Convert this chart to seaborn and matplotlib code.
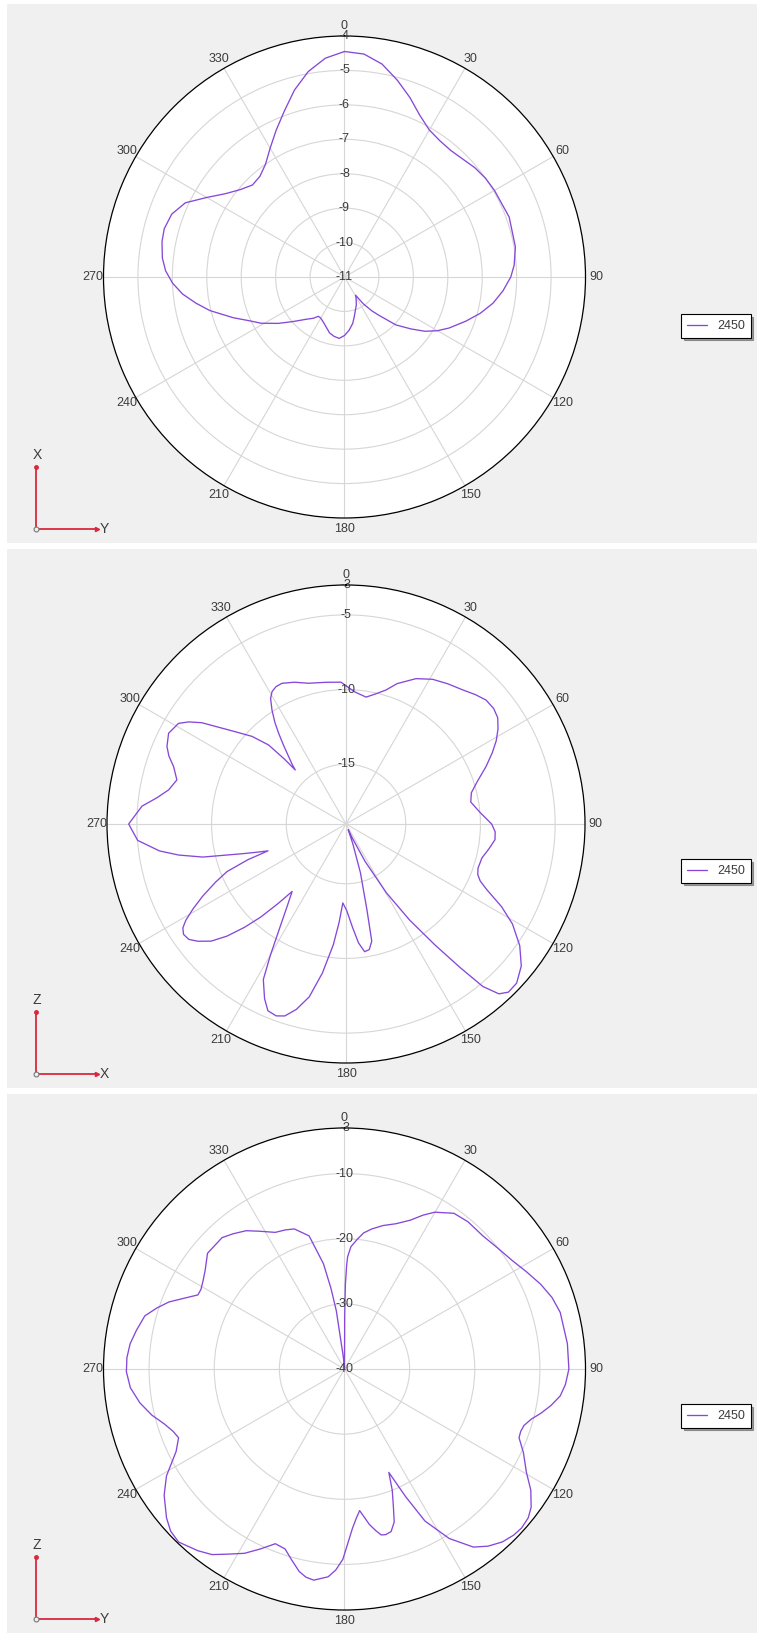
import numpy as np
import matplotlib
matplotlib.use("Agg")
import matplotlib.pyplot as plt
from matplotlib.patches import Rectangle
import seaborn as sns

# ---- radiation pattern data, 2450 MHz (angle in degrees, gain in dB) ----
xy_theta = [0, 5, 10, 15, 20, 25, 30, 35, 40, 45, 50, 55, 60, 70, 80, 86, 90, 95,
            100, 105, 110, 116, 120, 124, 128, 133, 138, 141, 145, 148.6, 152, 157,
            162, 166, 170, 175, 180, 185, 190, 195, 200, 205, 210, 213.6, 217, 222,
            229, 235, 241, 245, 250, 256, 260, 264, 268, 272, 276, 281, 285, 290,
            295, 300, 305, 310, 315, 320, 325, 330, 335, 340, 345, 350, 355, 360]
xy_gain = [-4.45, -4.50, -4.72, -5.08, -5.45, -5.82, -6.07, -6.17, -6.20, -6.15,
           -6.06, -6.00, -5.97, -5.91, -5.96, -6.06, -6.17, -6.38, -6.62, -6.92,
           -7.25, -7.62, -7.88, -8.18, -8.55, -8.96, -9.50, -9.73, -10.05, -10.38,
           -10.28, -10.12, -9.98, -9.82, -9.63, -9.45, -9.30, -9.21, -9.25, -9.32,
           -9.45, -9.55, -9.62, -9.63, -9.50, -9.35, -9.03, -8.65, -8.23, -7.98,
           -7.55, -6.97, -6.62, -6.27, -6.00, -5.80, -5.68, -5.60, -5.58, -5.66,
           -5.90, -6.38, -6.78, -7.05, -7.22, -7.18, -7.00, -6.68, -6.30, -5.88,
           -5.38, -4.94, -4.62, -4.45]

zx_theta = [0, 4, 9, 13, 16.6, 20, 25.7, 30.9, 36, 41, 45, 48.5, 52, 55, 58, 61, 64,
            67.7, 72, 76, 80, 85, 90, 93, 96, 100, 104, 108.5, 111, 113, 115, 118,
            121, 125, 129, 133, 136, 138, 139.9, 141.5, 143.7, 146.5, 149.6, 153,
            156, 158.5, 161, 163.5, 166.3, 167.6, 169.5, 171.7, 174, 176.4, 179.5,
            182.3, 184, 186, 189, 192, 195, 197.7, 200, 202.7, 205, 208, 210, 212.6,
            215.5, 218.6, 220.5, 222.5, 224.5, 226.7, 229, 231.6, 233.7, 235.8,
            237.5, 239, 241, 243.3, 246, 248.2, 250, 251, 252.5, 254.1, 257, 259.5,
            261.8, 265.5, 270, 275, 278, 280.9, 284.6, 288.4, 291, 293.4, 297.1,
            301, 303, 305.1, 309.8, 313, 315.6, 316.5, 316.8, 318, 319.6, 321.5,
            323.4, 325, 327, 329, 330.8, 333, 335.5, 340, 345.1, 352, 358, 360]
zx_gain = [-9.75, -10.15, -10.40, -10.05, -9.64, -9.00, -8.20, -7.71, -7.40, -7.10,
           -6.75, -6.48, -6.45, -6.60, -7.00, -7.50, -8.10, -8.87, -9.75, -10.35,
           -10.52, -10.00, -9.25, -9.00, -8.97, -9.30, -9.62, -9.68, -9.55, -9.24,
           -8.60, -7.20, -6.00, -4.80, -3.90, -3.38, -3.35, -3.70, -4.78, -6.70,
           -8.98, -11.30, -13.67, -16.20, -18.00, -18.60, -17.60, -15.60, -13.07,
           -10.97, -10.45, -10.36, -11.00, -12.07, -13.20, -13.71, -12.40, -10.87,
           -8.90, -7.17, -6.15, -5.51, -5.33, -5.45, -6.10, -7.21, -8.90, -10.79,
           -12.20, -13.22, -12.00, -10.55, -9.30, -8.06, -7.05, -6.36, -5.95, -5.85,
           -6.05, -6.49, -7.30, -8.27, -9.45, -10.42, -12.00, -13.48, -12.70,
           -11.72, -9.16, -7.60, -6.38, -5.01, -4.45, -5.29, -6.25, -6.91, -7.30,
           -6.84, -6.30, -5.94, -5.66, -5.92, -6.45, -7.21, -9.35, -10.40, -11.60,
           -13.00, -14.04, -13.60, -13.08, -12.30, -11.44, -10.70, -9.90, -9.20,
           -8.85, -8.68, -8.65, -8.90, -9.25, -9.42, -9.50, -9.75]

zy_theta = [0, 0.2, 0.6, 1.2, 1.6, 3, 5.6, 8, 11, 15, 19.5, 23.9, 27, 29.9, 35.1, 40,
            46.1, 52, 57, 62, 66.7, 71, 75.3, 83.5, 90, 94, 97.1, 100, 102.7, 105,
            107.5, 109.5, 111.5, 115, 119.6, 123, 126.5, 129, 131.9, 134.5, 137.6,
            141, 144.1, 148.3, 152.1, 154.4, 156.8, 158.5, 160.5, 162, 164, 166,
            167.5, 169, 170.9, 173.9, 175.5, 177.1, 180.5, 182.5, 184.5, 188.3,
            190.5, 192.6, 195.5, 198.3, 201.6, 205, 208.5, 212.4, 215.5, 218.9,
            223.8, 227, 230.1, 235, 239, 243.9, 247.5, 250, 253.1, 256.5, 260.6,
            265, 269.3, 273, 276.7, 280.5, 284.9, 288, 290.9, 294, 296.8, 299, 302,
            305.2, 310.2, 317, 320.5, 324.6, 328.5, 333.1, 337, 340.3, 345.1, 348.7,
            350.5, 352, 352.5, 354, 357, 360]
zy_gain = [-39.9, -32.0, -27.0, -24.0, -22.76, -21.2, -20.0, -18.9, -18.1, -17.2,
           -16.34, -15.0, -13.5, -12.23, -10.78, -10.50, -10.52, -10.0, -9.35, -8.30,
           -7.18, -6.30, -5.76, -5.56, -5.55, -6.00, -6.62, -7.80, -9.09, -10.30,
           -11.12, -11.30, -11.20, -9.70, -7.88, -5.90, -4.35, -3.70, -3.46, -3.60,
           -4.05, -5.00, -6.25, -9.42, -13.58, -18.25, -22.73, -20.0, -17.5, -15.3,
           -14.04, -13.8, -13.9, -14.7, -15.82, -18.14, -17.0, -15.55, -10.78, -9.10,
           -8.00, -7.24, -7.50, -8.14, -9.60, -10.91, -11.15, -9.53, -7.80, -6.33,
           -5.00, -4.15, -3.20, -3.50, -4.38, -6.20, -8.11, -11.21, -12.43, -12.00,
           -11.06, -9.60, -8.16, -7.00, -6.51, -6.55, -6.86, -7.50, -8.28, -9.70,
           -11.15, -13.20, -14.78, -14.80, -14.40, -13.81, -12.47, -12.43, -13.10,
           -13.95, -15.20, -16.48, -16.80, -17.16, -18.85, -23.52, -27.5, -31.0,
           -35.0, -37.8, -39.4, -39.9]

angle_ticks = [0, 30, 60, 90, 120, 150, 180, 210, 240, 270, 300, 330]
xy_rings = [-10, -9, -8, -7, -6, -5]
xy_rlabels = [-11, -10, -9, -8, -7, -6, -5, -4]
zx_rings = [-15, -10, -5]
zx_rlabels = [-15, -10, -5, -3]
zy_rings = [-30, -20, -10]
zy_rlabels = [-40, -30, -20, -10, -3]
freq_label = "2450"

W, H = 757, 1635
PANEL_H = 545
LINE = "#8648d8"
GRID = "#d6d6d6"
TXT = "#3c3c3c"
RED = "#d8283c"

panels = [
    dict(theta=xy_theta, gain=xy_gain, rlim=(-11, -4), rings=xy_rings,
         rlabels=xy_rlabels, up="X", right="Y", cx=344.5, cy=277, R=241),
    dict(theta=zx_theta, gain=zx_gain, rlim=(-19, -3), rings=zx_rings,
         rlabels=zx_rlabels, up="Z", right="X", cx=346, cy=824, R=239),
    dict(theta=zy_theta, gain=zy_gain, rlim=(-40, -3), rings=zy_rings,
         rlabels=zy_rlabels, up="Z", right="Y", cx=344.5, cy=1369, R=241),
]

sns.set_style("white")
plt.rcParams["font.family"] = ["Liberation Sans", "DejaVu Sans"]

fig = plt.figure(figsize=(W / 100, H / 100), dpi=100, facecolor="white")

# background + axis indicators, drawn in pixel coordinates
bg = fig.add_axes([0, 0, 1, 1], zorder=0)
bg.set_xlim(0, W)
bg.set_ylim(H, 0)
bg.axis("off")

for i, p in enumerate(panels):
    top = i * PANEL_H
    bg.add_patch(Rectangle((7, top + 4), W - 7, PANEL_H - 6, facecolor="#f0f0f0",
                           edgecolor="none"))
    ox, oy = 36, top + 529
    bg.plot([ox, ox], [oy, top + 467], color=RED, lw=1.3)
    bg.plot([ox, 97], [oy, oy], color=RED, lw=1.3)
    bg.plot([ox], [top + 467], marker="o", ms=2.5, color=RED)
    bg.plot([97], [oy], marker=">", ms=3, color=RED)
    bg.plot([ox], [oy], marker="o", ms=3.5, mfc="#f0f0f0", mec="#777777", mew=0.8)
    bg.text(ox + 1, top + 455, p["up"], ha="center", va="center", fontsize=10, color=TXT)
    bg.text(104, oy, p["right"], ha="center", va="center", fontsize=10, color=TXT)

    R = p["R"]
    ax = fig.add_axes([(p["cx"] - R) / W, 1 - (p["cy"] + R) / H, 2 * R / W, 2 * R / H],
                      projection="polar", zorder=2)
    ax.set_facecolor("white")
    ax.set_theta_zero_location("N")
    ax.set_theta_direction(-1)

    sns.lineplot(x=np.deg2rad(p["theta"]), y=p["gain"], ax=ax, sort=False,
                 estimator=None, color=LINE, linewidth=0.95, label=freq_label)

    ax.set_ylim(*p["rlim"])
    ax.set_yticks(p["rings"])
    ax.set_yticklabels([])
    ax.set_xticks(np.deg2rad(angle_ticks))
    ax.set_xticklabels([])
    ax.grid(True, color=GRID, lw=0.8)
    ax.spines["polar"].set_color("black")
    ax.spines["polar"].set_linewidth(0.9)
    ax.set_xlabel("")
    ax.set_ylabel("")

    # angle labels just outside the rim
    off = 0.5 + 10.5 / (2 * R)
    for a in angle_ticks:
        t = np.deg2rad(a)
        ax.text(0.5 + off * np.sin(t), 0.5 + off * np.cos(t), str(a),
                transform=ax.transAxes, ha="center", va="center", fontsize=9,
                color=TXT)

    # radial value labels along the 0 degree spoke
    for v in p["rlabels"]:
        ax.text(0, v, str(v), ha="center", va="center", fontsize=9, color=TXT,
                clip_on=False, zorder=5)

    leg = ax.legend(loc="center", bbox_to_anchor=(716 / W, 1 - (top + 326) / H),
                    bbox_transform=fig.transFigure, fontsize=9, frameon=True,
                    fancybox=False, shadow=True, handlelength=1.6,
                    handletextpad=0.8, borderpad=0.45)
    leg.get_frame().set_edgecolor("black")
    leg.get_frame().set_linewidth(0.8)
    for txt in leg.get_texts():
        txt.set_color(TXT)

fig.savefig("out.png", dpi=100, facecolor="white")
